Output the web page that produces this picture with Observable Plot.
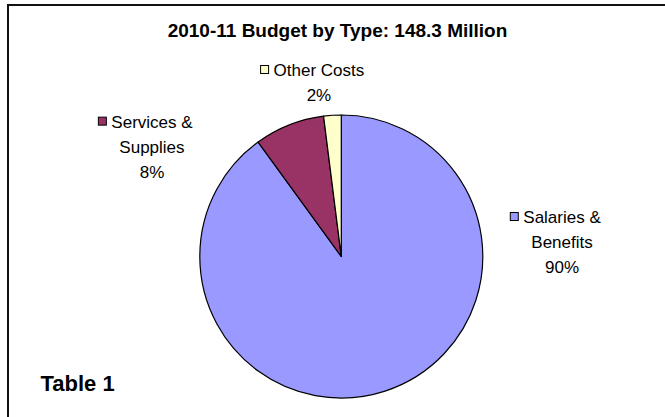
<!DOCTYPE html>
<html>
<head>
<meta charset="utf-8">
<script src="https://cdn.jsdelivr.net/npm/d3@7"></script>
<script src="https://cdn.jsdelivr.net/npm/@observablehq/plot@0.6"></script>
<style>
  html, body { margin: 0; padding: 0; background: #fff; overflow: hidden; }
  #wrap { position: relative; width: 665px; height: 417px; overflow: hidden; }
  #wrap svg { position: absolute; left: 0; top: 0; }
  /* box edge around the chart area */
  #edge { position: absolute; left: 7px; top: 4px; width: 700px; height: 440px;
          border-top: 2px solid #111; border-left: 2px solid #111; pointer-events: none; }
</style>
</head>
<body>
<div id="wrap"><div id="edge"></div></div>
<script>
// Budget shares by type (percent of 148.3 million)
const types = ["Salaries & Benefits", "Services & Supplies", "Other Costs"];
const shares = [90, 8, 2];
const colors = ["#9999FF", "#993366", "#FFFFCC"];
const labelLines = [["Salaries &", "Benefits"], ["Services &", "Supplies"], ["Other Costs"]];
const titleText = "2010-11 Budget by Type: 148.3 Million";
const noteText = "Table 1";

// Label anchors, in pie-radius units from the centre (top line centre)
const labelAnchor = [[1.56, 0.279], [-1.338, 0.953], [-0.158, 1.318]];

const FONT = "Arial, 'Liberation Sans', Helvetica, sans-serif";
const LABEL_SIZE = 17;
const LINE_STEP = 25;

const color = Plot.scale({color: {type: "ordinal", domain: types, range: colors}});
const rows = types.map((t, i) => ({type: t, share: shares[i], lines: labelLines[i], anchor: labelAnchor[i]}));

const measureCtx = document.createElement("canvas").getContext("2d");
measureCtx.font = `${LABEL_SIZE}px ${FONT}`;

// Pie wedges, drawn around the origin of the x/y scales
function pieMark(index, scales) {
  const {x, y} = scales;
  const cx = x(0), cy = y(0), r = x(1) - x(0);
  const arcs = d3.pie().sort(null).value(d => d.share)(rows);
  const arc = d3.arc().innerRadius(0).outerRadius(r);
  const g = d3.create("svg:g").attr("transform", `translate(${cx},${cy})`);
  g.selectAll("path").data(arcs).join("path")
    .attr("d", arc)
    .attr("fill", d => color.apply(d.data.type))
    .attr("stroke", "#000")
    .attr("stroke-width", 1.2)
    .attr("stroke-linejoin", "round");
  return g.node();
}

// Category labels with a colour key and the percentage underneath
function labelMark(index, scales) {
  const {x, y} = scales;
  const g = d3.create("svg:g")
    .attr("font-family", FONT)
    .attr("font-size", LABEL_SIZE)
    .attr("fill", "#000");
  rows.forEach(d => {
    const x0 = x(d.anchor[0]), y0 = y(d.anchor[1]);
    const lines = [...d.lines, `${d.share}%`];
    lines.forEach((s, j) => {
      g.append("text")
        .attr("x", x0).attr("y", y0 + j * LINE_STEP)
        .attr("text-anchor", "middle")
        .attr("dy", "0.36em")
        .text(s);
    });
    const w = measureCtx.measureText(lines[0]).width;
    g.append("rect")
      .attr("x", x0 - w / 2 - 13).attr("y", y0 - 4.5)
      .attr("width", 8).attr("height", 8)
      .attr("fill", color.apply(d.type))
      .attr("stroke", "#000").attr("stroke-width", 1);
  });
  return g.node();
}

const chart = Plot.plot({
  width: 665,
  height: 417,
  margin: 0,
  style: {background: "transparent", fontFamily: FONT, overflow: "visible"},
  x: {domain: [-1, 1], range: [199.8, 482.8], axis: null},
  y: {domain: [-1, 1], range: [398, 115], axis: null},
  marks: [
    pieMark,
    labelMark,
    Plot.text([titleText], {frameAnchor: "top", lineAnchor: "middle", dx: 4.5, dy: 30,
      fontWeight: "bold", fontSize: 19, fill: "#000"}),
    Plot.text([noteText], {frameAnchor: "bottom-left", textAnchor: "start", lineAnchor: "middle",
      dx: 40, dy: -34, fontWeight: "bold", fontSize: 22, fill: "#000"})
  ]
});
document.getElementById("wrap").insertBefore(chart, document.getElementById("edge"));
</script>
</body>
</html>
